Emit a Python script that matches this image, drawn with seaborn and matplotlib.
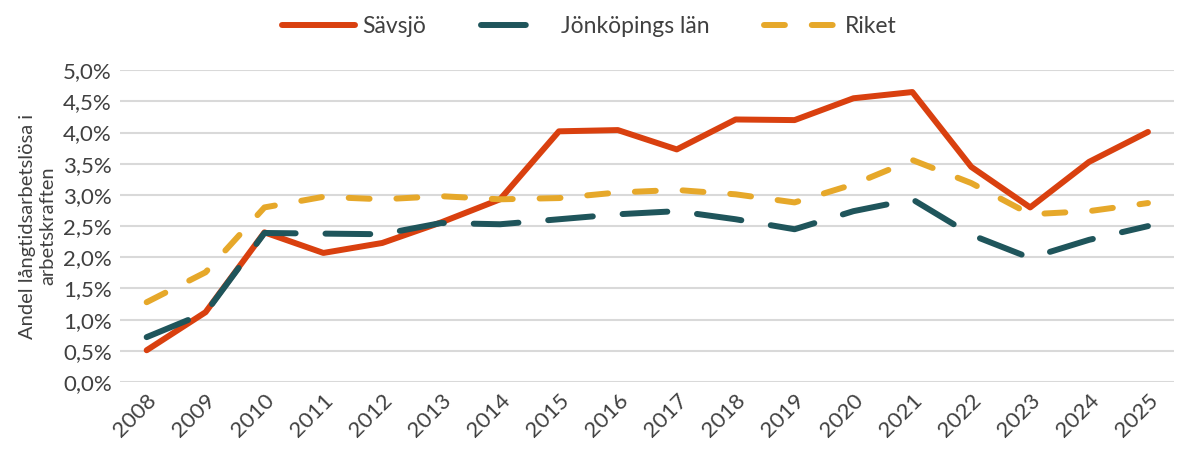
import numpy as np
import pandas as pd
import seaborn as sns
from matplotlib import pyplot as plt
from matplotlib.ticker import FuncFormatter

years = [str(y) for y in range(2008, 2026)]
savsjo = [0.51, 1.12, 2.40, 2.07, 2.23, 2.56, 2.93, 4.02, 4.04, 3.73, 4.21, 4.20, 4.55, 4.65, 3.45, 2.80, 3.53, 4.01]
jonkoping = [0.72, 1.11, 2.39, 2.38, 2.37, 2.55, 2.53, 2.61, 2.69, 2.74, 2.61, 2.45, 2.74, 2.93, 2.36, 1.99, 2.28, 2.50]
riket = [1.28, 1.76, 2.80, 2.97, 2.93, 2.98, 2.93, 2.95, 3.04, 3.08, 3.01, 2.88, 3.17, 3.56, 3.19, 2.69, 2.74, 2.87]
series_names = ['Sävsjö', 'Jönköpings län', 'Riket']
colors = ['#D9400F', '#1F555B', '#E6A82A']

# long form table for seaborn
df = pd.DataFrame({
	'year': years * 3,
	'value': np.array(savsjo + jonkoping + riket) / 100,
	'serie': [n for n in series_names for _ in years],
})

sns.set_style('white')
plt.rcParams['font.family'] = ['Lato', 'DejaVu Sans']
plt.rcParams['lines.solid_capstyle'] = 'round'
plt.rcParams['lines.dash_capstyle'] = 'round'

fig = plt.figure(figsize=(11.78, 4.5), dpi=100)
ax = fig.add_axes([0.102, 0.151, 0.895, 0.693])

sns.lineplot(data=df, x='year', y='value', hue='serie', style='serie',
	hue_order=series_names, style_order=series_names,
	palette=dict(zip(series_names, colors)),
	dashes={'Sävsjö': '', 'Jönköpings län': (7.5, 5.0), 'Riket': (3.5, 4.5)},
	linewidth=4.3, sort=False, ax=ax)

ax.set_ylim(0, 0.05)
ax.set_xlim(-0.45, len(years) - 0.55)
ax.set_yticks(np.arange(0, 0.0501, 0.005))
ax.yaxis.set_major_formatter(FuncFormatter(lambda v, p: f'{v*100:.1f}%'.replace('.', ',')))
ax.grid(axis='y', color='#D9D9D9', linewidth=1.5)
ax.set_axisbelow(True)
for s in ax.spines.values():
	s.set_visible(False)
ax.tick_params(axis='both', length=0, labelsize=16, labelcolor='#404040', pad=6)
plt.setp(ax.get_xticklabels(), rotation=45, ha='right', rotation_mode='anchor')
ax.set_xlabel('')
ax.set_ylabel('Andel långtidsarbetslösa i\narbetskraften', fontsize=14.5, color='#404040', labelpad=5, linespacing=1.25)

handles, labels = ax.get_legend_handles_labels()
ax.legend(handles, labels, loc='upper center', bbox_to_anchor=(0.5, 1.01), bbox_transform=fig.transFigure,
	ncol=3, frameon=False, fontsize=16.5, handlelength=3.2, columnspacing=2.4, handletextpad=0.3,
	labelcolor='#404040')

plt.savefig('out.png', dpi=100)
